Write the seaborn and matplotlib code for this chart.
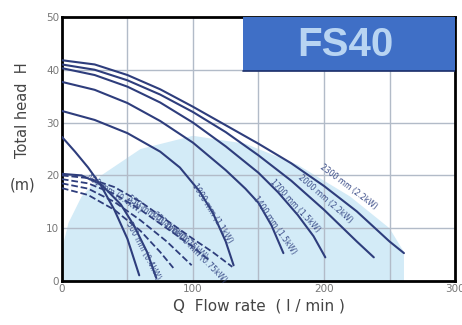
import matplotlib
matplotlib.use("Agg")
import matplotlib.pyplot as plt
import seaborn as sns

# pump curves (Q in l/min, H in m)
solid_q = [
    [0, 25, 50, 75, 100, 125, 150, 175, 200, 225, 250, 261],
    [0, 25, 50, 75, 100, 125, 150, 175, 200, 225, 238],
    [0, 25, 50, 75, 100, 125, 150, 165, 180, 192, 201],
    [0, 25, 50, 75, 100, 125, 140, 150, 160, 169],
    [0, 25, 50, 75, 90, 105, 115, 125, 131],
    [0, 10, 20, 30, 40, 50, 59],
    [0, 15, 30, 45, 55, 65, 72],
]
solid_h = [
    [41.8, 41.0, 39.0, 36.3, 33.0, 29.5, 26.0, 22.3, 18.0, 13.2, 7.5, 5.3],
    [41.0, 40.0, 38.0, 35.3, 32.0, 28.2, 23.8, 19.0, 13.5, 7.5, 4.5],
    [40.3, 39.0, 36.8, 33.8, 30.0, 25.5, 20.5, 16.8, 12.5, 8.5, 4.5],
    [37.7, 36.2, 33.7, 30.3, 26.2, 21.0, 17.5, 14.8, 10.5, 5.3],
    [32.2, 30.5, 28.0, 24.5, 21.5, 17.0, 13.0, 7.5, 3.0],
    [27.3, 24.5, 21.5, 18.0, 13.5, 8.0, 1.1],
    [20.3, 20.0, 18.3, 14.5, 10.5, 5.5, 0.6],
]
dashed_q = [
    [0, 20, 40, 60, 80, 100, 115, 130],
    [0, 20, 40, 60, 80, 100, 112],
    [0, 20, 40, 60, 80, 99],
    [0, 20, 40, 60, 75, 85],
]
dashed_h = [
    [20.0, 19.5, 17.8, 15.0, 11.5, 8.0, 5.5, 2.7],
    [19.3, 18.5, 16.5, 13.5, 10.0, 6.5, 4.0],
    [18.5, 17.5, 15.0, 11.5, 7.5, 3.0],
    [17.6, 16.3, 13.5, 9.5, 5.5, 2.5],
]
curve_labels = ["2300 mm (2.2kW)", "2000 mm (2.2kW)", "1700 mm (1.5kW)", "1400 mm (1.5kW)",
                "1000 mm (1.1kW)", "500 mm (0.4kW)", "400 mm (0.4kW)", "550 mm (0.4kW)",
                "650 mm (0.75kW)", "800 mm (0.75kW)"]
label_q = [219, 201, 178, 162, 115, 62, 40, 70, 90, 106]
label_h = [17.8, 15.6, 14.2, 10.6, 12.8, 5.8, 16.6, 12.4, 8.6, 4.6]
label_rot = [-37, -41, -47, -55, -58, -62, -33, -36, -40, -45]

shade_q = [0, 0, 5, 15, 30, 60, 100, 140, 180, 220, 250, 261, 261]
shade_h = [0, 6, 11, 16, 20, 25, 27.5, 26, 22, 16, 10, 5.5, 0]

sns.set_style("white")
plt.rcParams['font.family'] = ['DejaVu Sans']

fig = plt.figure(figsize=(4.62, 3.25), dpi=100)
ax = fig.add_axes([0.134, 0.135, 0.851, 0.813])

ax.fill(shade_q, shade_h, color="#d3ebf7", zorder=0, lw=0)

for q in range(50, 300, 50):
    ax.axvline(q, color="#b2bbc8", lw=1, zorder=1)
for h in range(10, 50, 10):
    ax.axhline(h, color="#b2bbc8", lw=1, zorder=1)

for q, h in zip(solid_q, solid_h):
    sns.lineplot(x=q, y=h, ax=ax, color="#2e3d7c", lw=1.5, sort=False, estimator=None, zorder=3)
for q, h in zip(dashed_q, dashed_h):
    sns.lineplot(x=q, y=h, ax=ax, color="#2e3d7c", lw=1.3, ls="--", sort=False, estimator=None, zorder=3)

for txt, q, h, r in zip(curve_labels, label_q, label_h, label_rot):
    ax.text(q, h, txt, rotation=r, fontsize=5.5, color="#3a4c88", ha="center", va="center",
            rotation_mode="anchor", zorder=4)

# model box
ax.add_patch(plt.Rectangle((138, 39.8), 162, 10.2, facecolor="#3f6fc6", edgecolor="none",
                           zorder=5, clip_on=False))
ax.plot([138, 300], [39.8, 39.8], color="#1c2f6a", lw=1.2, zorder=6)
ax.text(216, 44.7, "FS40", color="#b8d4f2", fontsize=29, fontweight="bold",
        family="Liberation Sans", ha="center", va="center", zorder=7)

ax.set_xlim(0, 300)
ax.set_ylim(0, 50)
ax.set_xticks([0, 100, 200, 300])
ax.set_yticks([0, 10, 20, 30, 40, 50])
ax.tick_params(labelsize=7.5, labelcolor="#777777", length=0, pad=2)
for s in ax.spines.values():
    s.set_color("black")
    s.set_linewidth(2)

ax.set_xlabel("Q  Flow rate  ( l / min )", fontsize=11, color="#444444", labelpad=3)
fig.text(0.048, 0.66, "Total head  H", rotation=90, fontsize=10.5, color="#444444", ha="center", va="center")
fig.text(0.048, 0.43, "(m)", fontsize=10.5, color="#444444", ha="center", va="center")

fig.savefig("out.png", dpi=100)
